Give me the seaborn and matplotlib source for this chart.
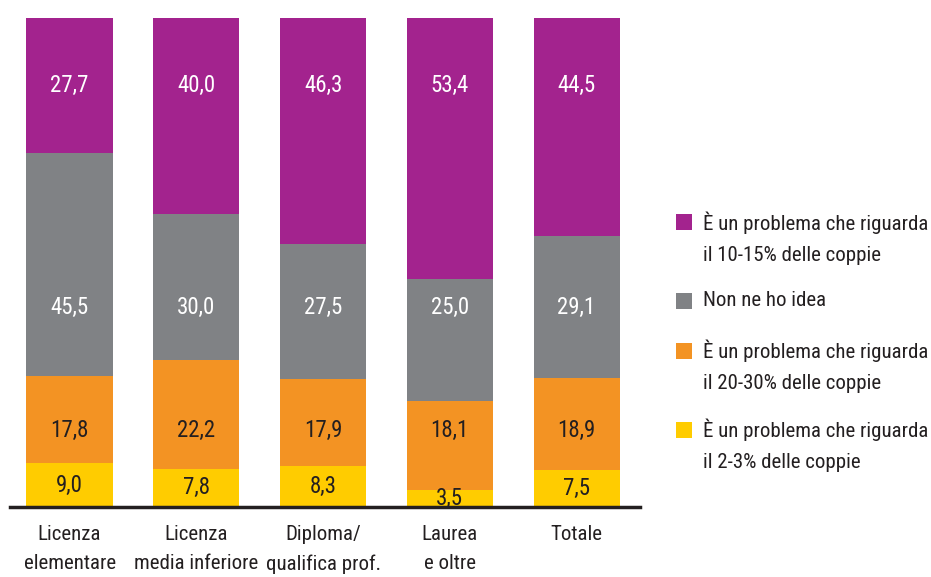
import os
import re
import numpy as np
import pandas as pd
import matplotlib
matplotlib.use('Agg')
import matplotlib.pyplot as plt
from matplotlib import font_manager as fm
from matplotlib.patches import Rectangle
import seaborn as sns

# data
categories = ['Licenza\nelementare', 'Licenza\nmedia inferiore', 'Diploma/\nqualifica prof.',
              'Laurea\ne oltre', 'Totale']
series_labels = ['È un problema che riguarda\nil 2-3% delle coppie',
                 'È un problema che riguarda\nil 20-30% delle coppie',
                 'Non ne ho idea',
                 'È un problema che riguarda\nil 10-15% delle coppie']
v_2_3 = [9.0, 7.8, 8.3, 3.5, 7.5]
v_20_30 = [17.8, 22.2, 17.9, 18.1, 18.9]
v_no_idea = [45.5, 30.0, 27.5, 25.0, 29.1]
v_10_15 = [27.7, 40.0, 46.3, 53.4, 44.5]

colors = ['#FFCC00', '#F39323', '#808285', '#A3238E']
txt_colors = ['#231F20', '#231F20', 'white', 'white']
dark = '#231F20'

sns.set_theme(style='white')
plt.rcParams['font.family'] = ['Liberation Sans', 'DejaVu Sans']


# the original uses a condensed face; look for one installed
def find_condensed():
    prefs = ['opensans', 'notosans', 'robotocondensed', 'liberationsansnarrow', 'dejavusans', 'lato', 'inter']
    found = []
    for f in fm.fontManager.ttflist:
        base = os.path.basename(f.fname)
        low = base.lower().replace(' ', '').replace('_', '')
        if re.search(r'(semi|extra|ultra|italic|oblique|bold|light|thin|medium|black)', low.split('condensed')[-1] if 'condensed' in low else low.split('narrow')[-1]):
            continue
        if 'condensed' in low or 'narrow' in low:
            if re.search(r'(semi|extra|ultra)condensed', low):
                continue
            rank = next((k for k, p in enumerate(prefs) if low.startswith(p)), len(prefs))
            found.append((rank, len(low), f.fname))
    if found:
        found.sort()
        return found[0][2]
    return None


cond_path = find_condensed()
if cond_path:
    fm.fontManager.addfont(cond_path)
    fp = fm.FontProperties(fname=cond_path, size=15)
else:
    fp = fm.FontProperties(family=['Liberation Sans', 'DejaVu Sans'], size=13)
fp_val = fp.copy()
fp_val.set_size(fp.get_size() + 1.5)

values = np.array([v_2_3, v_20_30, v_no_idea, v_10_15])
cum = values.cumsum(axis=0)

fig = plt.figure(figsize=(9.31, 5.77), dpi=100)
ax = fig.add_axes([10 / 931, 70 / 577, 630 / 931, 489 / 577])

# stacked bars: draw the tallest cumulative first, then the lower ones on top
for i in range(3, -1, -1):
    sns.barplot(x=categories, y=cum[i], color=colors[i], saturation=1,
                width=0.68, ax=ax, order=categories, linewidth=0)

# value labels (fixed rows as in the reference, yellow centred in its segment)
label_rows = [None, 15.7, 40.9, 86.3]
for i in range(4):
    for j, v in enumerate(values[i]):
        y = (cum[i][j] - v / 2) if label_rows[i] is None else label_rows[i]
        ax.text(j, y, f'{v:.1f}'.replace('.', ','), ha='center', va='center',
                fontproperties=fp_val, color=txt_colors[i])

ax.set_ylim(0, 100)
ax.set_xlim(-0.47, 4.5)
ax.set_yticks([])
ax.set_ylabel('')
sns.despine(ax=ax, left=True, top=True, right=True)
ax.spines['bottom'].set_color(dark)
ax.spines['bottom'].set_linewidth(2.5)
ax.tick_params(axis='x', length=0, pad=13, colors=dark)
for t in ax.get_xticklabels():
    t.set_fontproperties(fp)
    t.set_linespacing(1.65)

# legend, top to bottom: purple, gray, orange, yellow
sq_centers = [222, 301, 351, 430]
txt_centers = [238, 301, 366.5, 445.5]
for k, i in enumerate([3, 2, 1, 0]):
    fig.add_artist(Rectangle((676 / 931, 1 - (sq_centers[k] + 8) / 577), 16 / 931, 16 / 577,
                             transform=fig.transFigure, color=colors[i], lw=0))
    fig.text(703 / 931, 1 - txt_centers[k] / 577, series_labels[i], ha='left', va='center',
             fontproperties=fp, color=dark, linespacing=1.8)

fig.savefig('out.png', dpi=100)
